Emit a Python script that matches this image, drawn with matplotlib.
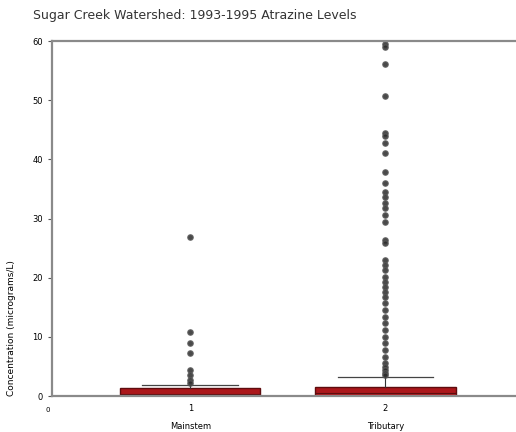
import numpy as np
import matplotlib
matplotlib.use("Agg")
import matplotlib.pyplot as plt

# site groups and box-plot summaries (micrograms/L)
SITES = ["Mainstem", "Tributary"]
POSITIONS = [1, 2]
Q1 = [0.05, 0.05]
MEDIAN = [0.4, 0.5]
Q3 = [1.3, 1.6]
WHISKER_LO = [0.0, 0.0]
WHISKER_HI = [1.9, 3.2]

# samples beyond the upper whisker
OUTLIERS_MAIN = [26.9, 10.8, 8.9, 7.3, 4.4, 3.5, 2.7, 2.2]
OUTLIERS_TRIB = [59.5, 59.0, 56.1, 50.7, 44.4, 43.9, 42.7, 41.0, 37.8, 36.0,
                 34.5, 33.6, 32.6, 31.8, 30.6, 29.4, 26.4, 25.8, 23.0, 22.1,
                 21.3, 20.1, 19.3, 18.4, 17.6, 16.7, 15.7, 14.5, 13.3, 12.3,
                 11.1, 10.0, 9.0, 7.8, 6.6, 5.6, 4.9, 4.4, 3.9, 3.5]

Y_TICKS = [0, 10, 20, 30, 40, 50, 60]

stats = []
for i, name in enumerate(SITES):
    stats.append({
        "label": f"{POSITIONS[i]}\n{name}",
        "q1": Q1[i], "med": MEDIAN[i], "q3": Q3[i],
        "whislo": WHISKER_LO[i], "whishi": WHISKER_HI[i],
        "fliers": np.array([OUTLIERS_MAIN, OUTLIERS_TRIB][i]),
    })

fig = plt.figure(figsize=(5.16, 4.32), dpi=100)
ax = fig.add_axes([0.101, 0.083, 0.899, 0.822])

ax.bxp(stats, positions=POSITIONS, widths=0.72, capwidths=0.49,
       patch_artist=True, showcaps=True,
       boxprops=dict(facecolor="#ab171b", edgecolor="#5e0c0e", linewidth=1.0),
       medianprops=dict(color="#5e0c0e", linewidth=0.8),
       whiskerprops=dict(color="#333333", linewidth=0.8),
       capprops=dict(color="#444444", linewidth=0.9),
       flierprops=dict(marker="o", markersize=3.8, markerfacecolor="#2a2a2a",
                       markeredgecolor="#555555", alpha=0.85))

ax.set_xlim(0.292, 2.67)
ax.set_ylim(0, 60)
ax.set_yticks(Y_TICKS)
ax.tick_params(axis="y", labelsize=6, length=3, width=0.8, color="#555555")
ax.tick_params(axis="x", labelsize=6, length=0, pad=6)
for lab in ax.get_xticklabels():
    lab.set_linespacing(2.2)
ax.text(-0.01, -0.03, "0", transform=ax.transAxes, fontsize=5,
        ha="center", va="top")

for side in ["left", "bottom", "top"]:
    ax.spines[side].set_color("#8a8a8a")
    ax.spines[side].set_linewidth(1.6)
ax.spines["right"].set_visible(False)

ax.set_ylabel("Concentration (micrograms/L)", fontsize=6.5, labelpad=12,
              loc="bottom")
fig.text(0.064, 0.965, "Sugar Creek Watershed: 1993-1995 Atrazine Levels",
         fontsize=9, color="#333333", ha="left", va="center")

fig.savefig("out.png", dpi=100)
